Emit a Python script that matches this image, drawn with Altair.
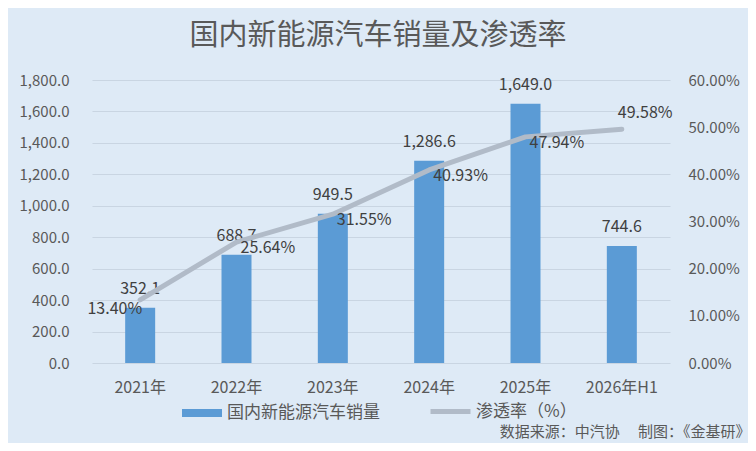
import altair as alt
import pandas as pd

years = ["2021年", "2022年", "2023年", "2024年", "2025年", "2026年H1"]
sales = [352.1, 688.7, 949.5, 1286.6, 1649.0, 744.6]
rates = [0.1340, 0.2564, 0.3155, 0.4093, 0.4794, 0.4958]

BAR_NAME = "国内新能源汽车销量"
LINE_NAME = "渗透率（%）"
TITLE = "国内新能源汽车销量及渗透率"
SOURCE = "数据来源：中汽协　 制图：《金基研》"

FONT = "Noto Sans CJK SC"
BG = "#DEEAF6"
BAR_COLOR = "#5B9BD5"
LINE_COLOR = "#B1BBC8"
AXIS_TEXT = "#595959"
LABEL_TEXT = "#404040"

df = pd.DataFrame({"year": years, "sales": sales, "rate": rates})

base = alt.Chart(df).transform_calculate(s1=f'"{BAR_NAME}"', s2=f'"{LINE_NAME}"')

x_enc = alt.X(
    "year:N",
    sort=years,
    scale=alt.Scale(paddingInner=0, paddingOuter=0),
    axis=alt.Axis(
        labelAngle=0, ticks=False, domain=False, labelPadding=16,
        labelFontSize=16, labelColor=AXIS_TEXT, labelFont=FONT,
        title=SOURCE, titleFont=FONT, titleFontSize=15, titleFontWeight="normal",
        titleColor=AXIS_TEXT, titleAnchor="end", titleAlign="right",
        titleX=658, titleY=68, titleBaseline="middle",
    ),
)

y_left = alt.Y(
    "sales:Q",
    scale=alt.Scale(domain=[0, 1800], nice=False),
    axis=alt.Axis(
        values=[0, 200, 400, 600, 800, 1000, 1200, 1400, 1600, 1800],
        format=",.1f", title=None, ticks=False, tickSize=0, domain=False,
        labelPadding=23, labelFontSize=15, labelColor=AXIS_TEXT, labelFont=FONT,
        grid=True, gridColor="#C9D5E2", gridWidth=1,
    ),
)

y_right = alt.Y(
    "rate:Q",
    scale=alt.Scale(domain=[0, 0.6], nice=False),
    axis=alt.Axis(
        orient="right", values=[0, 0.1, 0.2, 0.3, 0.4, 0.5, 0.6],
        format=".2%", title=None, ticks=False, tickSize=0, domain=False,
        labelPadding=18, labelFontSize=15, labelColor=AXIS_TEXT, labelFont=FONT,
        grid=False,
    ),
)

bars = base.mark_bar(size=30).encode(
    x=x_enc,
    y=y_left,
    fill=alt.Fill(
        "s1:N",
        scale=alt.Scale(domain=[BAR_NAME], range=[BAR_COLOR]),
        legend=alt.Legend(
            title=None, orient="none", legendX=90, legendY=313, padding=0,
            symbolType="M-1,-0.2H1V0.2H-1Z", symbolSize=1600, symbolStrokeWidth=0,
            labelFont=FONT, labelFontSize=17, labelColor=AXIS_TEXT, labelOffset=5,
            labelLimit=0,
        ),
    ),
)

bar_text = base.mark_text(
    dy=-19, baseline="middle", align="center", font=FONT, fontSize=16, color=LABEL_TEXT
).encode(x=x_enc, y=y_left, text=alt.Text("sales:Q", format=",.1f"))

line = base.mark_line(strokeWidth=5, strokeCap="round", strokeJoin="round").encode(
    x=x_enc,
    y=y_right,
    stroke=alt.Stroke(
        "s2:N",
        scale=alt.Scale(domain=[LINE_NAME], range=[LINE_COLOR]),
        legend=alt.Legend(
            title=None, orient="none", legendX=336, legendY=309, padding=0,
            symbolType="stroke", symbolSize=1600, symbolStrokeWidth=5,
            labelFont=FONT, labelFontSize=17, labelColor=AXIS_TEXT, labelOffset=3,
            labelLimit=0,
        ),
    ),
)

pct_fmt = alt.Text("rate:Q", format=".2%")
pct_first = base.mark_text(
    align="right", baseline="middle", dx=2, dy=9, font=FONT, fontSize=16, color=LABEL_TEXT
).encode(x=x_enc, y=y_right, text=pct_fmt).transform_filter(
    alt.datum.year == years[0]
)
pct_mid = base.mark_text(
    align="left", baseline="middle", dx=4, dy=6, font=FONT, fontSize=16, color=LABEL_TEXT
).encode(x=x_enc, y=y_right, text=pct_fmt).transform_filter(
    alt.FieldOneOfPredicate(field="year", oneOf=years[1:-1])
)
pct_last = base.mark_text(
    align="left", baseline="middle", dx=-4, dy=-16, font=FONT, fontSize=16, color=LABEL_TEXT
).encode(x=x_enc, y=y_right, text=pct_fmt).transform_filter(
    alt.datum.year == years[-1]
)

left = alt.layer(bars, bar_text)
right = alt.layer(line, pct_first, pct_mid, pct_last)

chart = (
    alt.layer(left, right)
    .resolve_scale(y="independent", fill="independent", stroke="independent")
    .properties(
        width=578,
        height=283,
        background=BG,
        padding={"left": 84, "top": 72, "right": 78, "bottom": 80},
        autosize=alt.AutoSizeParams(type="none"),
        title=alt.TitleParams(
            TITLE, font=FONT, fontSize=29, fontWeight="normal", color=AXIS_TEXT,
            anchor="middle", offset=22, dx=-3,
        ),
    )
    .configure_view(stroke=None)
)

chart.save("out.html", embed_options={"renderer": "svg", "actions": False})
